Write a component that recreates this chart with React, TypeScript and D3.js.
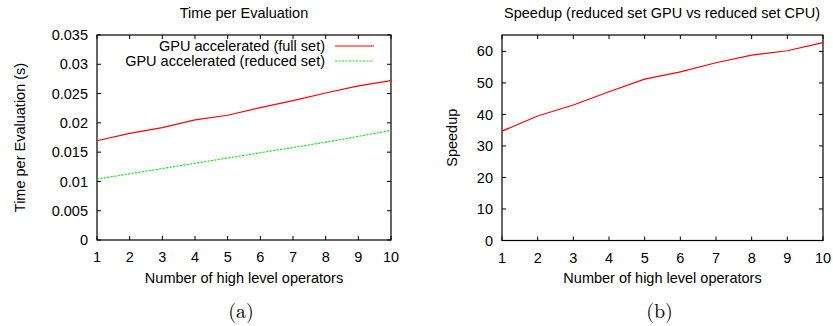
import React, { useEffect, useRef } from 'react';
import * as d3 from 'd3';

// number of high level operators
const operators = [1, 2, 3, 4, 5, 6, 7, 8, 9, 10];
// time per evaluation (s)
const fullSet = [0.01695, 0.0182, 0.0192, 0.0205, 0.0213, 0.0226, 0.0238, 0.0251, 0.0263, 0.0272];
const reducedSet = [0.0104, 0.0113, 0.0122, 0.0131, 0.0140, 0.0149, 0.0158, 0.0167, 0.0177, 0.0187];
// speedup reduced set GPU vs CPU
const speedup = [34.7, 39.5, 43.0, 47.2, 51.2, 53.5, 56.4, 58.8, 60.2, 62.8];

const timeTicks = [0, 0.005, 0.01, 0.015, 0.02, 0.025, 0.03, 0.035];
const speedTicks = [0, 10, 20, 30, 40, 50, 60];

const FONT = '"Liberation Sans", Arial, sans-serif';
const FS = 14.5;

const App = () => {
  const ref = useRef<SVGSVGElement>(null);

  useEffect(() => {
    const svg = d3.select(ref.current);
    svg.selectAll('*').remove();

    const panel = (opts: any) => {
      const { x0, x1, y0, y1, yDomain, yTicks, fmt, title, titleX, ylabel, ylabelX, caption, series } = opts;
      const x = d3.scaleLinear().domain([1, 10]).range([x0, x1]);
      const y = d3.scaleLinear().domain(yDomain).range([y1, y0]);
      const g = svg.append('g');

      // ticks (inward, mirrored)
      yTicks.forEach((t: number) => {
        g.append('line').attr('x1', x0).attr('x2', x0 + 4).attr('y1', y(t)).attr('y2', y(t)).attr('stroke', '#000');
        g.append('line').attr('x1', x1).attr('x2', x1 - 4).attr('y1', y(t)).attr('y2', y(t)).attr('stroke', '#000');
        g.append('text').attr('x', x0 - 9).attr('y', y(t)).attr('dy', '0.35em').attr('text-anchor', 'end')
          .attr('font-size', FS).attr('font-family', FONT).text(fmt(t));
      });
      operators.forEach((t) => {
        g.append('line').attr('x1', x(t)).attr('x2', x(t)).attr('y1', y1).attr('y2', y1 - 4).attr('stroke', '#000');
        g.append('line').attr('x1', x(t)).attr('x2', x(t)).attr('y1', y0).attr('y2', y0 + 4).attr('stroke', '#000');
        g.append('text').attr('x', x(t)).attr('y', y1 + 17).attr('dy', '0.35em').attr('text-anchor', 'middle')
          .attr('font-size', FS).attr('font-family', FONT).text(String(t));
      });

      g.append('rect').attr('x', x0).attr('y', y0).attr('width', x1 - x0).attr('height', y1 - y0)
        .attr('fill', 'none').attr('stroke', '#000').attr('stroke-width', 1.2);

      series.forEach((s: any) => {
        const line = d3.line<number>().x((_, i) => x(operators[i])).y((d) => y(d));
        g.append('path').datum(s.values).attr('d', line).attr('fill', 'none')
          .attr('stroke', s.color).attr('stroke-width', 1.2)
          .attr('stroke-dasharray', s.dash || null);
      });

      g.append('text').attr('x', titleX).attr('y', 13).attr('dy', '0.35em').attr('text-anchor', 'middle')
        .attr('font-size', FS).attr('font-family', FONT).text(title);
      g.append('text').attr('x', (x0 + x1) / 2).attr('y', 278).attr('dy', '0.35em').attr('text-anchor', 'middle')
        .attr('font-size', FS).attr('font-family', FONT).text('Number of high level operators');
      g.append('text').attr('transform', `translate(${ylabelX},${(y0 + y1) / 2}) rotate(-90)`)
        .attr('dy', '0.35em').attr('text-anchor', 'middle')
        .attr('font-size', FS).attr('font-family', FONT).text(ylabel);
      g.append('text').attr('x', (x0 + x1) / 2 - 3).attr('y', 311).attr('dy', '0.35em').attr('text-anchor', 'middle')
        .attr('font-size', 20).attr('font-family', '"Latin Modern Roman", "Liberation Serif", serif').text(caption);

      return { x, y, g };
    };

    const left = panel({
      x0: 97, x1: 391, y0: 35, y1: 240, yDomain: [0, 0.035], yTicks: timeTicks,
      fmt: (t: number) => (t === 0 ? '0' : String(+t.toFixed(3))),
      title: 'Time per Evaluation', titleX: 244, ylabel: 'Time per Evaluation (s)', ylabelX: 20, caption: '(a)',
      series: [
        { values: fullSet, color: '#ff0000' },
        { values: reducedSet, color: '#00ee00', dash: '2,1.5' },
      ],
    });

    // legend
    const legend = [
      { label: 'GPU accelerated (full set)', color: '#ff0000', dash: null, y: 46 },
      { label: 'GPU accelerated (reduced set)', color: '#00ee00', dash: '2,1.5', y: 61 },
    ];
    legend.forEach((l) => {
      left.g.append('text').attr('x', 325).attr('y', l.y).attr('dy', '0.35em').attr('text-anchor', 'end')
        .attr('font-size', FS).attr('font-family', FONT).text(l.label);
      left.g.append('line').attr('x1', 335).attr('x2', 374).attr('y1', l.y).attr('y2', l.y)
        .attr('stroke', l.color).attr('stroke-width', 1.2).attr('stroke-dasharray', l.dash);
    });

    panel({
      x0: 502, x1: 823, y0: 35, y1: 240.5, yDomain: [0, 65.2], yTicks: speedTicks,
      fmt: (t: number) => String(t),
      title: 'Speedup (reduced set GPU vs reduced set CPU)', titleX: 662, ylabel: 'Speedup', ylabelX: 452, caption: '(b)',
      series: [{ values: speedup, color: '#ff0000' }],
    });
  }, []);

  return (
    <svg ref={ref} width={833} height={326} style={{ position: 'absolute', left: 0, top: 0, background: '#fff' }} />
  );
};

export default App;
